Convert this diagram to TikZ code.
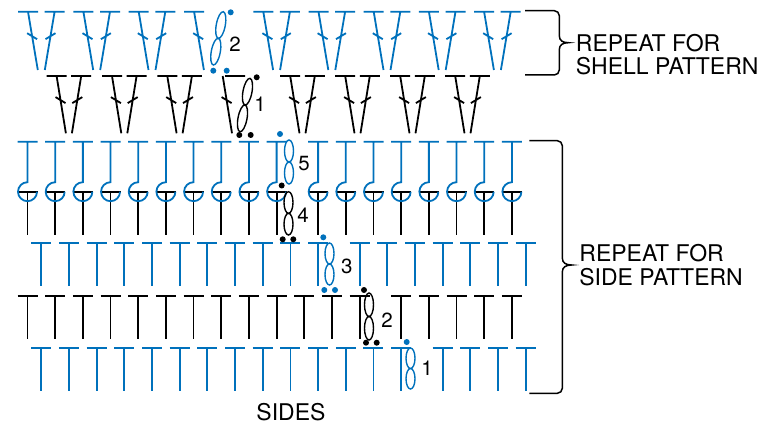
\documentclass[tikz,border=0pt]{standalone}
\usepackage{fontspec}
\setmainfont{TeX Gyre Heros}
\definecolor{chartblue}{RGB}{0,113,188}
\begin{document}
\begin{tikzpicture}[x=1pt,y=1pt,line width=1.8pt,
  blue/.style={draw=chartblue},
  chain/.style={line width=1.4pt},
  num/.style={inner sep=0pt,font=\fontsize{20.5}{21}\selectfont},
  note/.style={inner sep=0pt,anchor=base west,font=\fontsize{23}{24}\selectfont}]
  \useasboundingbox (0,0) rectangle (776,426);
  \foreach \k in {0,...,13,14.5,15.5,16.5,17.5}
    \draw[blue] ({41.3+\k*27.68-10},78) -- +(20,0) ({41.3+\k*27.68},78) -- +(0,-43);
  \foreach \k in {0,...,12,13.5,14.5,15.5,16.5,17.5}
    \draw ({27.5+\k*27.68-10},130.3) -- +(20,0) ({27.5+\k*27.68},130.3) -- +(0,-43.3);
  \foreach \k in {0,...,10,11.5,12.5,13.5,14.5,15.5,16.5,17.5}
    \draw[blue] ({41.3+\k*27.68-10},182.7) -- +(20,0) ({41.3+\k*27.68},182.7) -- +(0,-42.2);
  \foreach \k in {0,...,9,10.5,11.5,12.5,13.5,14.5,15.5,16.5,17.5}
    \draw ({27.5+\k*27.68-10},234.3) -- +(20,0) ({27.5+\k*27.68},234.3) -- +(0,-43.3);
  \foreach \k in {0,...,9,10.5,11.5,12.5,13.5,14.5,15.5,16.5,17.5}
    \draw[blue] ({27.5+\k*27.68-10},284.3) -- +(20,0) ({27.5+\k*27.68},284.3) -- ({27.5+\k*27.68},243.8)
      arc [start angle=90,end angle=360,radius=9.5];
  \foreach \b in {68.9,124.3,179.6,302.5,357.5,412.5,467.5}
    \foreach \s in {-1,1}
      \draw ({\b+\s*12.3-10},350) -- +(20,0) ({\b+\s*12.3},350) -- ({\b+\s*3},292.7)
        ({\b+\s*8.4-5},{325.9-\s*3}) -- +(10,{\s*6});
  \draw (225,350) -- +(20,0) (235-12.3,350) -- (232,292.7) (221.6,328.9) -- +(10,-6);
  \foreach \b in {41.3,96.7,152,276.6,331.8,387,442.2,497.4}
    \foreach \s in {-1,1}
      \draw[blue] ({\b+\s*13.3-10},414.3) -- +(20,0) ({\b+\s*13.3},414.3) -- ({\b+\s*3.5},356)
        ({\b+\s*9.2-5},{389.8-\s*3}) -- +(10,{\s*6});
  \draw[blue] (184.1,414.3) -- +(20,0) (194.1,414.3) -- (203.9,356) (193.2,392.8) -- +(10,-6);
  \foreach \x/\t/\b in {410.5/78/37,329.5/183/141,289/286/242}
    \draw[blue,chain] (\x,{\b+(\t-\b)/4}) ellipse [x radius=4.5,y radius={(\t-\b)/4}]
      (\x,{\b+3*(\t-\b)/4}) ellipse [x radius=4.5,y radius={(\t-\b)/4}];
  \foreach \x/\t/\b in {369/133/86,288.5/234.3/191}
    \draw[chain] (\x,{\b+(\t-\b)/4}) ellipse [x radius=4.5,y radius={(\t-\b)/4}]
      (\x,{\b+3*(\t-\b)/4}) ellipse [x radius=4.5,y radius={(\t-\b)/4}];
  \begin{scope}[shift={(213.3,361)},rotate=-10.6]
    \draw[blue,chain] (0,13.55) ellipse [x radius=4.5,y radius=13.55] (0,40.65) ellipse [x radius=4.5,y radius=13.55];
  \end{scope}
  \begin{scope}[shift={(240,294.3)},rotate=-10.6]
    \draw[chain] (0,13.57) ellipse [x radius=4.5,y radius=13.57] (0,40.7) ellipse [x radius=4.5,y radius=13.57];
  \end{scope}
  \foreach \p in {(406.7,84),(323.3,188.7),(324.3,136),(335,136),(280,292),(230.7,413.7),(213.3,355.3),(226.7,355.3)}
    \fill[chartblue] \p circle [radius=3];
  \foreach \p in {(364,136),(366,83.3),(376.7,83.3),(281.7,240.5),(282.7,186.7),(293.3,186.7),(256.7,348.7),(239.3,291),(250.7,291)}
    \fill \p circle [radius=3];
  \node[num] (shelltwo) at (235,382) {2};
  \node[num] (shellone) at (260,322) {1};
  \node[num] (rowfive) at (304,262) {5};
  \node[num] (rowfour) at (303,210.5) {4};
  \node[num] (rowthree) at (346.7,160) {3};
  \node[num] (rowtwo) at (387,106) {2};
  \node[num] (rowone) at (427,58) {1};
  \draw[line width=1.5pt] (525,415.3) -- (554.3,415.3) arc [start angle=90,end angle=0,radius=5] -- (559.3,390.3)
    .. controls (559.3,385.3) and (563,383.3) .. (568.3,383.3) .. controls (563,383.3) and (559.3,381.3) .. (559.3,376.3)
    -- (559.3,356) arc [start angle=0,end angle=-90,radius=5] -- (525,351);
  \draw[line width=1.5pt] (529.3,285.3) -- (557.3,285.3) arc [start angle=90,end angle=0,radius=5] -- (562.3,168)
    .. controls (562.3,163) and (566,161) .. (571.7,161) .. controls (566,161) and (562.3,159) .. (562.3,154)
    -- (562.3,37.7) arc [start angle=0,end angle=-90,radius=5] -- (529.3,32.7);
  \node[note] (shellrep) at (575,374.3) {REPEAT FOR};
  \node[note] (shellpat) at (575,351) {SHELL PATTERN};
  \node[note] (siderep) at (578.5,164.3) {REPEAT FOR};
  \node[note] (sidepat) at (578.5,140.3) {SIDE PATTERN};
  \node[note,anchor=base] (sides) at (291,6) {SIDES};
\end{tikzpicture}
\end{document}
